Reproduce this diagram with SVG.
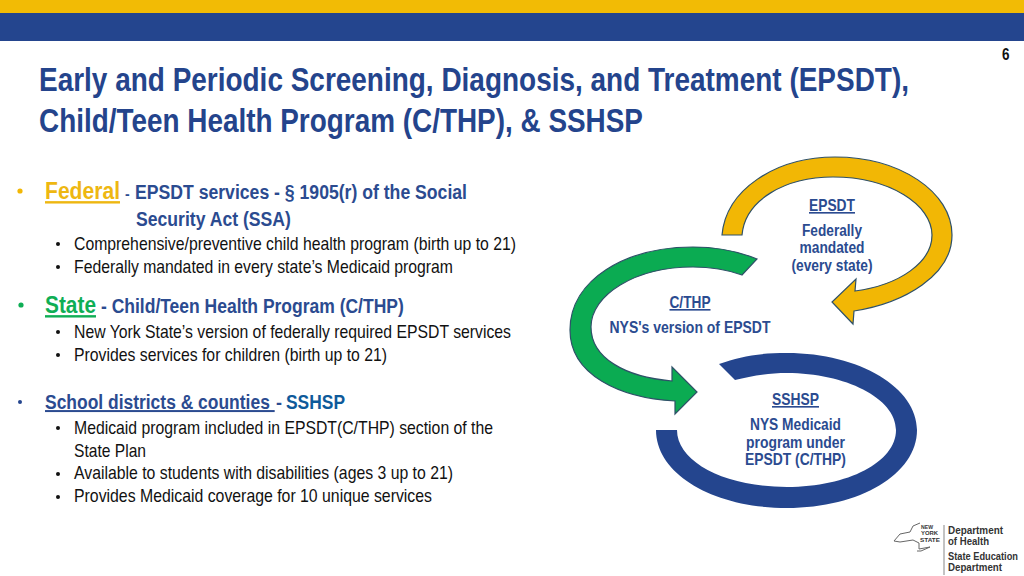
<svg xmlns="http://www.w3.org/2000/svg" width="1024" height="576" viewBox="0 0 1024 576">
<style>
text{font-family:"Liberation Sans",Arial,sans-serif}
.t{font-size:34px;font-weight:700;fill:#24448c}
.h{font-size:20px;font-weight:700;fill:#2b4b90}
.s{font-size:18.5px;fill:#111}
.c{font-size:16.3px;font-weight:700;fill:#2b4b90;text-anchor:middle}
.lg{font-size:10px;font-weight:700;fill:#333}
.ny{font-size:6px;font-weight:700;fill:#333}
.a{stroke:#2f5168;stroke-width:1.2}
.u{text-decoration:underline}
</style>
<rect width="1024" height="13" fill="#f2bb05"/>
<rect y="13" width="1024" height="28" fill="#24458e"/>
<text x="1002" y="60" font-size="16" font-weight="700" fill="#111" textLength="7.5" lengthAdjust="spacingAndGlyphs">6</text>
<g id="title">
<text class="t" transform="translate(39,91) scale(.84,1)" textLength="1035.7" lengthAdjust="spacingAndGlyphs">Early and Periodic Screening, Diagnosis, and Treatment (EPSDT),</text>
<text class="t" transform="translate(39,132) scale(.84,1)" textLength="719" lengthAdjust="spacingAndGlyphs">Child/Teen Health Program (C/THP), &amp; SSHSP</text>
</g>
<g id="federal">
<circle cx="20" cy="191" r="2.6" fill="#f2b705"/>
<text class="u" transform="translate(45,199) scale(.87,1)" font-size="24" font-weight="700" fill="#eeb711" textLength="86.2" lengthAdjust="spacingAndGlyphs">Federal</text>
<text x="125" y="199" font-size="14" font-weight="700" fill="#2b4b90">-</text>
<text class="h" transform="translate(135,199) scale(.87,1)" textLength="381.6" lengthAdjust="spacingAndGlyphs">EPSDT services - § 1905(r) of the Social</text>
<text class="h" transform="translate(136,226) scale(.87,1)" textLength="178" lengthAdjust="spacingAndGlyphs">Security Act (SSA)</text>
<circle cx="58" cy="244" r="2" fill="#111"/>
<text class="s" x="74" y="250" textLength="442" lengthAdjust="spacingAndGlyphs">Comprehensive/preventive child health program (birth up to 21)</text>
<circle cx="58" cy="267" r="2" fill="#111"/>
<text class="s" x="74" y="273" textLength="379" lengthAdjust="spacingAndGlyphs">Federally mandated in every state’s Medicaid program</text>
</g>
<g id="state">
<circle cx="21" cy="305" r="2.6" fill="#0fae55"/>
<text class="u" transform="translate(45,313) scale(.87,1)" font-size="24" font-weight="700" fill="#0fae55" textLength="58.6" lengthAdjust="spacingAndGlyphs">State</text>
<text class="h" transform="translate(101,313) scale(.87,1)" textLength="348" lengthAdjust="spacingAndGlyphs">- Child/Teen Health Program (C/THP)</text>
<circle cx="58" cy="332" r="2" fill="#111"/>
<text class="s" x="74" y="338" textLength="437" lengthAdjust="spacingAndGlyphs">New York State’s version of federally required EPSDT services</text>
<circle cx="58" cy="355" r="2" fill="#111"/>
<text class="s" x="74" y="361" textLength="313" lengthAdjust="spacingAndGlyphs">Provides services for children (birth up to 21)</text>
</g>
<g id="school">
<circle cx="20" cy="402" r="2" fill="#24458e"/>
<text class="h u" transform="translate(45,409) scale(.87,1)" textLength="264" lengthAdjust="spacingAndGlyphs" xml:space="preserve">School districts &amp; counties </text>
<text x="276" y="409" font-size="18" font-weight="700" fill="#2b4b90">-</text>
<text transform="translate(286,409) scale(.87,1)" font-size="20" font-weight="700" fill="#0e5a9a" textLength="67.8" lengthAdjust="spacingAndGlyphs">SSHSP</text>
<circle cx="58" cy="428" r="2" fill="#111"/>
<text class="s" x="74" y="434" textLength="419" lengthAdjust="spacingAndGlyphs">Medicaid program included in EPSDT(C/THP) section of the</text>
<text class="s" x="74" y="457" textLength="72" lengthAdjust="spacingAndGlyphs">State Plan</text>
<circle cx="58" cy="474" r="2" fill="#111"/>
<text class="s" x="74" y="479" textLength="379" lengthAdjust="spacingAndGlyphs">Available to students with disabilities (ages 3 up to 21)</text>
<circle cx="58" cy="497" r="2" fill="#111"/>
<text class="s" x="74" y="502" textLength="358" lengthAdjust="spacingAndGlyphs">Provides Medicaid coverage for 10 unique services</text>
</g>
<g id="connectors">
<path class="a" fill="#f2b705" d="M722,235 C726,190 775,157 835,157 C900,157 952,192 952,235 C952,275 905,303 854,311 L853,324 L832,302 L856,279 L855,291 C900,285 932,262 932,235 C932,205 890,177 833,177 C785,177 745,200 742,235 Z"/>
<path class="a" fill="#0bab52" d="M757,259 C735,250 715,247 693,247 C625,247 570,280 570,330 C570,375 620,398 675,401 L675,414 L697,392 L672,367 L672,381 C625,377 591,358 591,327 C591,295 635,267 693,267 C712,267 728,270 742,275 Z"/>
<path fill="#24458e" d="M719,364 C740,357 755,353 787,353 C860,353 917,388 917,430 C917,474 860,508 787,508 C713,508 656,474 656,430 L677,430 C677,462 725,487 787,487 C848,487 896,462 896,430 C896,398 845,373 787,373 C768,373 750,376 735,380 Z"/>
</g>
<g id="epsdt">
<text class="c u" x="832" y="211" textLength="46" lengthAdjust="spacingAndGlyphs">EPSDT</text>
<text class="c" x="832" y="236" textLength="60" lengthAdjust="spacingAndGlyphs">Federally</text>
<text class="c" x="832" y="253" textLength="65" lengthAdjust="spacingAndGlyphs">mandated</text>
<text class="c" x="832" y="271" textLength="81" lengthAdjust="spacingAndGlyphs">(every state)</text>
</g>
<g id="cthp">
<text class="c u" x="690" y="308" textLength="41" lengthAdjust="spacingAndGlyphs">C/THP</text>
<text class="c" x="690" y="333" textLength="161" lengthAdjust="spacingAndGlyphs">NYS's version of EPSDT</text>
</g>
<g id="sshsp">
<text class="c u" x="795.5" y="405" textLength="47" lengthAdjust="spacingAndGlyphs">SSHSP</text>
<text class="c" x="795.5" y="430" textLength="91" lengthAdjust="spacingAndGlyphs">NYS Medicaid</text>
<text class="c" x="795.5" y="448" textLength="99" lengthAdjust="spacingAndGlyphs">program under</text>
<text class="c" x="795.5" y="465" textLength="101" lengthAdjust="spacingAndGlyphs">EPSDT (C/THP)</text>
</g>
<g id="logo">
<path fill="none" stroke="#666" stroke-width="1" d="M894,541 L900,534 L910,532 L913,526 L920,523 M894,541 L900,542 L913,540 L919,543 L919,549 L930,547 L921,551 L917,551"/>
<text class="ny" x="921" y="529" textLength="12" lengthAdjust="spacingAndGlyphs">NEW</text>
<text class="ny" x="921" y="535" textLength="17" lengthAdjust="spacingAndGlyphs">YORK</text>
<text class="ny" x="920" y="541.5" textLength="20" lengthAdjust="spacingAndGlyphs">STATE</text>
<rect x="943.5" y="525" width="1" height="50" fill="#888"/>
<text class="lg" x="948" y="534" textLength="55" lengthAdjust="spacingAndGlyphs">Department</text>
<text class="lg" x="948" y="545" textLength="41" lengthAdjust="spacingAndGlyphs">of Health</text>
<text class="lg" x="948" y="560" textLength="70" lengthAdjust="spacingAndGlyphs">State Education</text>
<text class="lg" x="948" y="571" textLength="54" lengthAdjust="spacingAndGlyphs">Department</text>
</g>
</svg>
